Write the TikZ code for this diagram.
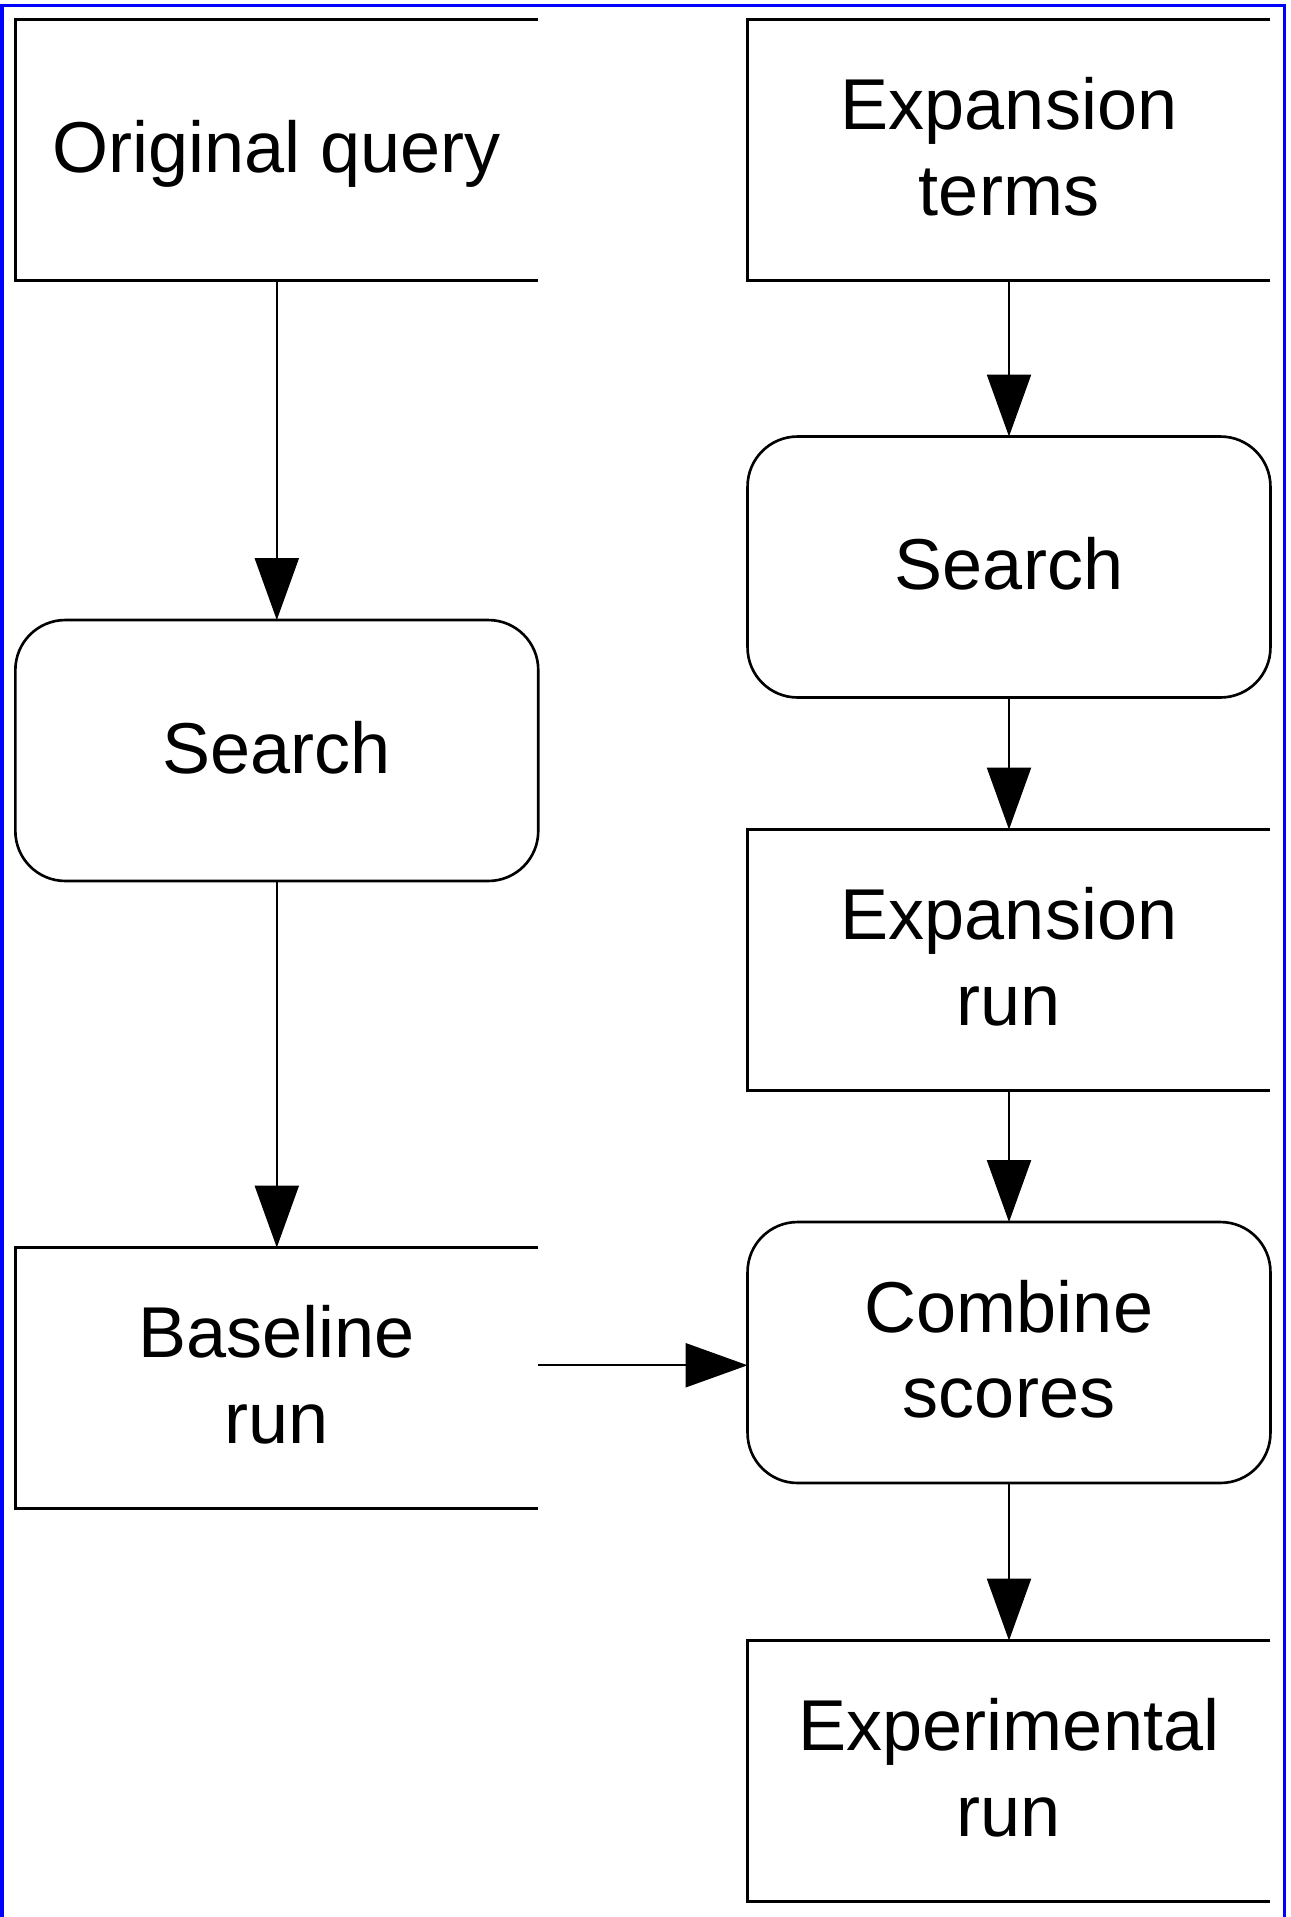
\documentclass[tikz,border=0pt]{standalone}
\usepackage{fontspec}
\setmainfont{Liberation Sans}
\usetikzlibrary{arrows.meta,calc}
\begin{document}
\begin{tikzpicture}[x=0.02cm,y=-0.02cm,
  every node/.style={inner sep=0pt,outer sep=0pt,align=center,text depth=4pt,
    font=\fontsize{41pt}{48.7pt}\selectfont},
  box/.style={minimum width=10.46cm,minimum height=5.22cm},
  proc/.style={box,draw,line width=1.5pt,rounded corners=1cm},
  arr/.style={line width=1.3pt,-{Triangle[length=1.24cm,width=0.88cm]}},
  openside/.style={line width=1.5pt}]
\useasboundingbox (0,0) rectangle (1291,1917);
% blue frame (bottom edge cut off)
\draw[blue,line width=2.2pt] (1.6,1917) -- (1.6,5.5) -- (1284.5,5.5) -- (1284.5,1917);
% left column
\node[box] (orig) at (276.8,150) {Original query};
\node[proc] (lsearch) at (276.8,750.5) {Search};
\node[box] (base) at (276.8,1378) {Baseline\\run};
% right column
\node[box] (terms) at (1009,150) {Expansion\\terms};
\node[proc] (rsearch) at (1009,567) {Search};
\node[box] (exprun) at (1009,960) {Expansion\\run};
\node[proc] (comb) at (1009,1352.5) {Combine\\scores};
\node[box] (expt) at (1009,1771) {Experimental\\run};
% open-sided boxes
\foreach \n in {orig,base,terms,exprun,expt}{
  \draw[openside] (\n.north east) -- (\n.north west) -- (\n.south west) -- (\n.south east);
}
% connectors
\draw[arr] (orig.south) -- (lsearch.north);
\draw[arr] (lsearch.south) -- (base.north);
\draw[arr] (terms.south) -- (rsearch.north);
\draw[arr] (rsearch.south) -- (exprun.north);
\draw[arr] (exprun.south) -- (comb.north);
\draw[arr] (comb.south) -- (expt.north);
\coordinate (mid) at ($(base.east)!0.5!(comb.west)$);
\draw[arr] (base.east |- mid) -- (comb.west |- mid);
\end{tikzpicture}
\end{document}
